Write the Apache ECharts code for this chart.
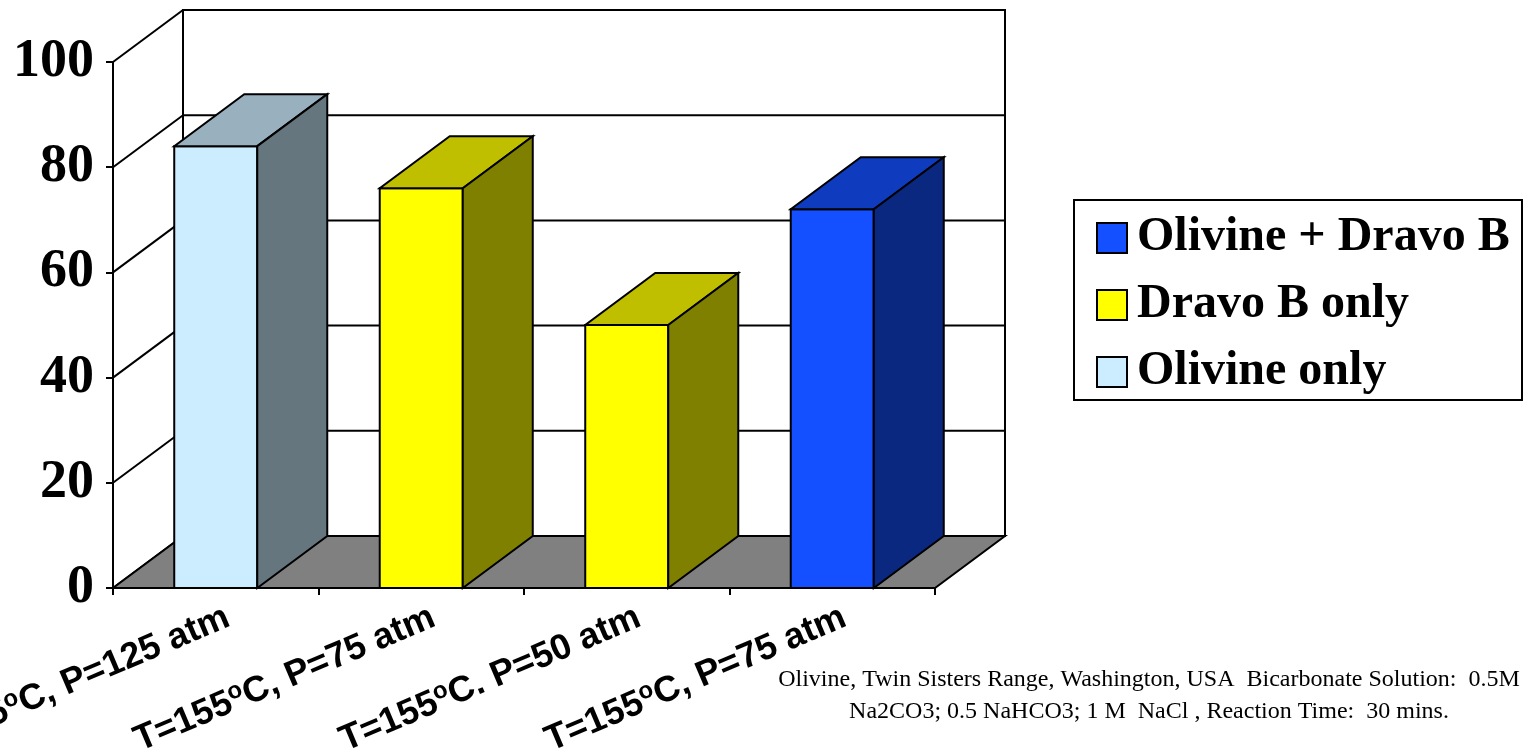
<!DOCTYPE html>
<html>
<head>
<meta charset="utf-8">
<title>Olivine / Dravo B conversion</title>
<script src="https://cdn.jsdelivr.net/npm/echarts@6/dist/echarts.min.js"></script>
<style>
  html, body { margin: 0; padding: 0; background: #ffffff; }
  #chart { width: 1530px; height: 756px; }
</style>
</head>
<body>
<div id="chart"></div>
<script>
// Category labels ("o" after 155 is drawn as a superscript)
const categories = ['T=155oC, P=125 atm', 'T=155oC, P=75 atm', 'T=155oC. P=50 atm', 'T=155oC, P=75 atm'];

// Series values, one bar per category
const olivineOnly   = [84, null, null, null];
const dravoBOnly    = [null, 76, 50, null];
const olivineDravoB = [null, null, null, 72];

// Value axis range
const yMin = 0, yMax = 100, yStep = 20;

const legendOrder = ['Olivine + Dravo B', 'Dravo B only', 'Olivine only'];

const footnote = 'Olivine, Twin Sisters Range, Washington, USA  Bicarbonate Solution:  0.5M\nNa2CO3; 0.5 NaHCO3; 1 M  NaCl , Reaction Time:  30 mins.';

// 3-D depth of the plot box (screen pixels)
const DX = 70, DY = -52;

const shades = {
  'Olivine only':      { front: '#CCECFF', top: '#99B1BF', side: '#66767F' },
  'Dravo B only':      { front: '#FFFF00', top: '#BFBF00', side: '#808000' },
  'Olivine + Dravo B': { front: '#1450FF', top: '#0F3CBF', side: '#0A2880' }
};

const chart = echarts.init(document.getElementById('chart'), null, { renderer: 'canvas' });

// Walls, floor and gridlines of the 3-D box
function renderFrame(params, api) {
  const cs = params.coordSys;
  const x0 = cs.x, y0 = cs.y, w = cs.width, h = cs.height;
  const kids = [];
  kids.push({
    type: 'polygon',
    shape: { points: [[x0, y0], [x0 + DX, y0 + DY], [x0 + DX, y0 + h + DY], [x0, y0 + h]] },
    style: { fill: '#ffffff', stroke: null }
  });
  kids.push({
    type: 'rect',
    shape: { x: x0 + DX, y: y0 + DY, width: w, height: h },
    style: { fill: '#ffffff', stroke: '#000000', lineWidth: 2 }
  });
  for (let v = yMin; v <= yMax; v += yStep) {
    const yy = api.coord([0, v])[1];
    kids.push({
      type: 'line',
      shape: { x1: x0, y1: yy, x2: x0 + DX, y2: yy + DY },
      style: { stroke: '#000000', lineWidth: 2 }
    });
    if (v > yMin && v < yMax) {
      kids.push({
        type: 'line',
        shape: { x1: x0 + DX, y1: yy + DY, x2: x0 + w + DX, y2: yy + DY },
        style: { stroke: '#000000', lineWidth: 2 }
      });
    }
  }
  const yb = api.coord([0, yMin])[1];
  kids.push({
    type: 'polygon',
    shape: { points: [[x0, yb], [x0 + w, yb], [x0 + w + DX, yb + DY], [x0 + DX, yb + DY]] },
    style: { fill: '#808080', stroke: '#000000', lineWidth: 2, lineJoin: 'miter' }
  });
  return { type: 'group', children: kids };
}

// One 3-D column: front, top and side faces
function makeBarRenderer(name) {
  const c = shades[name];
  return function (params, api) {
    const idx = api.value(0), val = api.value(1);
    const base = api.coord([idx, yMin]);
    const top = api.coord([idx, val]);
    const bw = api.size([1, 0])[0] * 0.404;
    const xl = base[0] - bw / 2, xr = base[0] + bw / 2;
    const yt = top[1], yb = base[1];
    const st = { stroke: '#000000', lineWidth: 2, lineJoin: 'miter' };
    return {
      type: 'group',
      children: [
        { type: 'rect', shape: { x: xl, y: yt, width: bw, height: yb - yt }, style: Object.assign({ fill: c.front }, st) },
        { type: 'polygon', shape: { points: [[xl, yt], [xr, yt], [xr + DX, yt + DY], [xl + DX, yt + DY]] }, style: Object.assign({ fill: c.top }, st) },
        { type: 'polygon', shape: { points: [[xr, yt], [xr + DX, yt + DY], [xr + DX, yb + DY], [xr, yb]] }, style: Object.assign({ fill: c.side }, st) }
      ]
    };
  };
}

function toData(arr) {
  const out = [];
  arr.forEach((v, i) => { if (v != null) out.push([i, v]); });
  return out;
}

function richCategory(s) {
  return '{a|' + s.replace('oC', '}{s|o}{a|C') + '}';
}

// Slanted category labels under the floor
function renderCatLabel(params, api) {
  const i = api.value(0);
  const p = api.coord([i, yMin]);
  return {
    type: 'text',
    x: p[0] + 12,
    y: p[1] + 28,
    rotation: 23 * Math.PI / 180,
    style: {
      text: richCategory(categories[i]),
      align: 'right',
      verticalAlign: 'middle',
      rich: {
        a: { fontFamily: 'Liberation Sans, Arial, sans-serif', fontWeight: 'bold', fontSize: 36, fill: '#000', lineHeight: 40 },
        s: { fontFamily: 'Liberation Sans, Arial, sans-serif', fontWeight: 'bold', fontSize: 24, fill: '#000', verticalAlign: 'top', lineHeight: 40 }
      }
    }
  };
}

function barSeries(name, arr) {
  return {
    name: name,
    type: 'custom',
    coordinateSystem: 'cartesian2d',
    renderItem: makeBarRenderer(name),
    itemStyle: { color: shades[name].front },
    data: toData(arr),
    clip: false,
    z: 3,
    silent: true
  };
}

const option = {
  backgroundColor: '#ffffff',
  animation: false,
  grid: { left: 113, top: 62, width: 822, height: 526, containLabel: false },
  xAxis: {
    type: 'category',
    data: categories,
    boundaryGap: true,
    axisLine: { show: true, lineStyle: { color: '#000', width: 2 } },
    axisTick: { show: true, length: 7, lineStyle: { color: '#000', width: 2 } },
    axisLabel: { show: false },
    splitLine: { show: false },
    z: 5
  },
  yAxis: {
    type: 'value',
    min: yMin,
    max: yMax,
    interval: yStep,
    axisLine: { show: true, lineStyle: { color: '#000', width: 2 } },
    axisTick: { show: true, length: 7, lineStyle: { color: '#000', width: 2 } },
    axisLabel: {
      margin: 19,
      fontFamily: 'Liberation Serif, Times New Roman, serif',
      fontWeight: 'bold',
      fontSize: 54,
      color: '#000'
    },
    splitLine: { show: false },
    z: 5
  },
  legend: {
    data: legendOrder,
    orient: 'vertical',
    left: 1091,
    top: 208,
    itemWidth: 30,
    itemHeight: 30,
    itemGap: 17,
    icon: 'rect',
    itemStyle: { borderColor: '#000', borderWidth: 2 },
    textStyle: {
      fontFamily: 'Liberation Serif, Times New Roman, serif',
      fontWeight: 'bold',
      fontSize: 48,
      lineHeight: 50,
      color: '#000',
      padding: [0, 0, 0, 5]
    },
    selectedMode: false,
    z: 10
  },
  graphic: [
    {
      type: 'rect',
      shape: { x: 1074, y: 200, width: 448, height: 200 },
      style: { fill: '#ffffff', stroke: '#000', lineWidth: 2 },
      z: -1
    },
    {
      type: 'text',
      x: 1149,
      y: 664,
      style: {
        text: footnote,
        align: 'center',
        verticalAlign: 'top',
        fontFamily: 'Liberation Serif, Times New Roman, serif',
        fontSize: 24,
        lineHeight: 32,
        fill: '#000'
      }
    }
  ],
  series: [
    {
      name: 'frame',
      type: 'custom',
      coordinateSystem: 'cartesian2d',
      renderItem: renderFrame,
      data: [[0, 0]],
      clip: false,
      z: 1,
      silent: true
    },
    barSeries('Olivine + Dravo B', olivineDravoB),
    barSeries('Dravo B only', dravoBOnly),
    barSeries('Olivine only', olivineOnly),
    {
      name: 'categoryLabels',
      type: 'custom',
      coordinateSystem: 'cartesian2d',
      renderItem: renderCatLabel,
      data: categories.map((c, i) => [i, 0]),
      clip: false,
      z: 4,
      silent: true
    }
  ]
};

chart.setOption(option);
</script>
</body>
</html>
